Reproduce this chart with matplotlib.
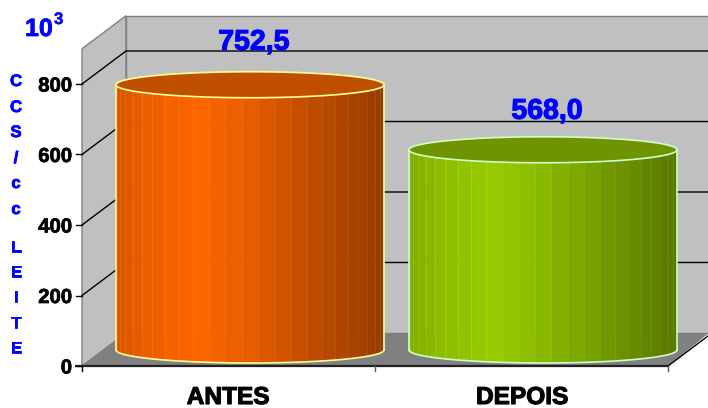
import numpy as np
import matplotlib
matplotlib.use("Agg")
import matplotlib.pyplot as plt
import matplotlib.patheffects as pe
from matplotlib.patches import Polygon

plt.rcParams['font.family'] = ['Liberation Sans', 'DejaVu Sans']

categories = ['ANTES', 'DEPOIS']
values = [752.5, 568.0]
value_labels = ['752,5', '568,0']
y_ticks = [0, 200, 400, 600, 800]
y_max = 900
side_title = ['C', 'C', 'S', '/', 'c', 'c', 'L', 'E', 'I', 'T', 'E']
side_title_y = [80, 106, 131, 157, 182, 208, 246, 271, 296, 322, 347]

body_light = ['#ff6600', '#99cc00']
top_colors = ['#c05000', '#709400']
edge_colors = ['#ffff99', '#ccffcc']

# pixel sizes of the old 3d chart
W, H = 708, 408
px_per_unit = 0.3525
y0_px = 366
x0, x1 = 82, 668
dx, dy = 44, 33 / px_per_unit
bar_x = [(116, 384), (409, 677)]
ry = 13 / px_per_unit
base = 16 / px_per_unit   # cylinder base centre above the front floor edge
label_gap = [45, 41]
cat_x = [228, 522]


def py(p):
    return (y0_px - p) / px_per_unit


def bold(w, col):
    return [pe.withStroke(linewidth=w, foreground=col)]


fig = plt.figure(figsize=(W / 100, H / 100), dpi=100)
ax = fig.add_axes([0, 0, 1, 1])
ax.set_xlim(0, W)
ax.set_ylim(-(H - y0_px) / px_per_unit, y0_px / px_per_unit)
ax.axis('off')

wall = '#c0c0c0'
ax.add_patch(Polygon([(x0, 0), (x0 + dx, dy), (x0 + dx, y_max + dy), (x0, y_max)], fc=wall, ec='#808080', lw=1, zorder=1))
ax.add_patch(Polygon([(x0 + dx, dy), (W + 1, dy), (W + 1, y_max + dy), (x0 + dx, y_max + dy)], fc=wall, ec='#808080', lw=1, zorder=1))
ax.add_patch(Polygon([(x0, 0), (x0 + dx, dy), (W + 1, dy), (x1, 0)], fc='#808080', ec='none', zorder=1))

for t in y_ticks[1:]:
    ax.plot([x0, x0 + dx, W], [t, t + dy, t + dy], color='black', lw=1, zorder=2)
ax.plot([x0 - 7, x1], [0, 0], color='#222222', lw=1.6, solid_capstyle='butt', zorder=2)
ax.plot([x1, W], [0, dy * (W - x1) / dx], color='black', lw=1, zorder=2)
ax.plot([x0, x0], [-5 / px_per_unit, 0], color='black', lw=1, zorder=2)
for t in y_ticks:
    ax.plot([x0 - 6, x0], [t, t], color='black', lw=1, zorder=2)
    ax.text(x0 - 10, t, str(t), ha='right', va='center_baseline', fontsize=14.6, fontweight='bold',
            path_effects=bold(0.5, 'black'))
for x in [(x0 + x1) / 2, x1]:
    ax.plot([x, x], [-5 / px_per_unit, 0], color='#555555', lw=1, zorder=2)


def shade(rgb, u):
    # light peaks left of centre, falls off to the right
    stops_x = [0, 0.08, 0.3, 0.5, 0.75, 1]
    stops_k = [0.84, 0.9, 1.0, 0.9, 0.74, 0.58]
    return np.array(rgb) * np.interp(u, stops_x, stops_k)


n_facets = 25
for i, v in enumerate(values):
    xa, xb = bar_x[i]
    xc, rx = (xa + xb) / 2, (xb - xa) / 2
    rgb = matplotlib.colors.to_rgb(body_light[i])
    th = np.linspace(np.pi, 2 * np.pi, n_facets + 1)
    top = base + v
    for k in range(n_facets):
        tt = np.linspace(th[k], th[k + 1], 6)
        xs = xc + rx * np.cos(tt)
        low = base + ry * np.sin(tt)
        up = top + ry * np.sin(tt)
        c = shade(rgb, (xs.mean() - xa) / (xb - xa))
        ax.fill(np.r_[xs, xs[::-1]], np.r_[low, up[::-1]], fc=c, ec=c, lw=0.3, zorder=3)
        ax.plot([xs[0], xs[0]], [low[0], up[0]], color=np.minimum(c + 0.05, 1), lw=0.7, zorder=3)
    tt = np.linspace(0, 2 * np.pi, 200)
    ax.fill(xc + rx * np.cos(tt), top + ry * np.sin(tt), fc=top_colors[i], ec=edge_colors[i], lw=1.2, zorder=4)
    tb = np.linspace(np.pi, 2 * np.pi, 100)
    ax.plot(xc + rx * np.cos(tb), base + ry * np.sin(tb), color=edge_colors[i], lw=1.2, zorder=4)
    ax.plot([xa, xa], [base, top], color=edge_colors[i], lw=1.2, zorder=4)
    ax.plot([xb, xb], [base, top], color=edge_colors[i], lw=1.2, zorder=4)
    ax.text(xc + 4, top + label_gap[i] / px_per_unit, value_labels[i], ha='center', va='center_baseline',
            color='#0000ff', fontsize=20.5, fontweight='bold', zorder=5, path_effects=bold(0.8, '#0000ff'))
    ax.text(cat_x[i], py(395), categories[i], ha='center', va='center_baseline',
            fontsize=17.6, fontweight='bold', path_effects=bold(0.8, 'black'))

ax.text(25, py(36), '10', color='#0000ff', fontsize=18, fontweight='bold', va='baseline',
        path_effects=bold(0.5, '#0000ff'))
ax.text(54, py(24), '3', color='#0000ff', fontsize=12, fontweight='bold', va='baseline',
        path_effects=bold(0.3, '#0000ff'))
for s, yp in zip(side_title, side_title_y):
    ax.text(16, py(yp), s, color='#0000ff', fontsize=12, fontweight='bold',
            ha='center', va='center_baseline', path_effects=bold(0.6, '#0000ff'))

fig.savefig('out.png', dpi=100)
